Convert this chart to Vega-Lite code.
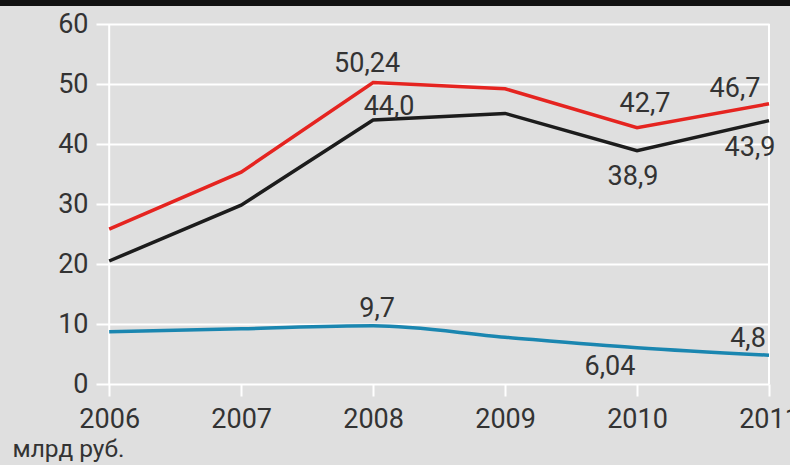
{
  "$schema": "https://vega.github.io/schema/vega-lite/v6.json",
  "autosize": "none",
  "width": 673,
  "height": 360,
  "padding": {"left": 96, "top": 24, "right": 21, "bottom": 81},
  "background": "#dfdfdf",
  "config": {
    "view": {"stroke": null},
    "font": "Roboto",
    "text": {"font": "Roboto"}
  },
  "datasets": {
    "series": [
      {"year": 2006, "series": "s1", "value": 25.8, "label": ""},
      {"year": 2007, "series": "s1", "value": 35.3, "label": ""},
      {"year": 2008, "series": "s1", "value": 50.24, "label": "50,24"},
      {"year": 2009, "series": "s1", "value": 49.2, "label": ""},
      {"year": 2010, "series": "s1", "value": 42.7, "label": "42,7"},
      {"year": 2011, "series": "s1", "value": 46.7, "label": "46,7"},
      {"year": 2006, "series": "s2", "value": 20.5, "label": ""},
      {"year": 2007, "series": "s2", "value": 29.8, "label": ""},
      {"year": 2008, "series": "s2", "value": 44.0, "label": "44,0"},
      {"year": 2009, "series": "s2", "value": 45.1, "label": ""},
      {"year": 2010, "series": "s2", "value": 38.9, "label": "38,9"},
      {"year": 2011, "series": "s2", "value": 43.9, "label": "43,9"},
      {"year": 2006, "series": "s3", "value": 8.7, "label": ""},
      {"year": 2007, "series": "s3", "value": 9.2, "label": ""},
      {"year": 2008, "series": "s3", "value": 9.7, "label": "9,7"},
      {"year": 2009, "series": "s3", "value": 7.8, "label": ""},
      {"year": 2010, "series": "s3", "value": 6.04, "label": "6,04"},
      {"year": 2011, "series": "s3", "value": 4.8, "label": "4,8"}
    ],
    "edges": [{"year": 2006}, {"year": 2011}],
    "strip": [{"x0": 2005.1, "x1": 2011.3, "yv": 63.6}]
  },
  "data": {"name": "series"},
  "encoding": {
    "x": {
      "field": "year",
      "type": "quantitative",
      "scale": {"domain": [2005.9, 2011], "nice": false, "zero": false},
      "axis": {
        "values": [2006, 2007, 2008, 2009, 2010, 2011],
        "format": "d",
        "grid": false,
        "domain": false,
        "ticks": true,
        "tickColor": "white",
        "tickSize": 12,
        "tickWidth": 2,
        "labelFont": "Roboto",
        "labelFontSize": 27,
        "labelColor": "#333333",
        "labelPadding": 10,
        "labelFlush": false,
        "labelOverlap": false,
        "title": "млрд руб.",
        "titleFont": "Roboto",
        "titleFontSize": 24.5,
        "titleFontWeight": "normal",
        "titleColor": "#333333",
        "titleAnchor": "start",
        "titleAlign": "left",
        "titleBaseline": "alphabetic",
        "titleX": -84,
        "titleY": 72
      }
    },
    "y": {
      "field": "value",
      "type": "quantitative",
      "scale": {"domain": [0, 60], "nice": false},
      "axis": {
        "values": [0, 10, 20, 30, 40, 50, 60],
        "grid": true,
        "gridColor": "white",
        "gridWidth": 2,
        "gridOpacity": 1,
        "domain": false,
        "ticks": false,
        "labelFont": "Roboto",
        "labelFontSize": 27,
        "labelColor": "#333333",
        "labelPadding": 8,
        "title": null
      }
    }
  },
  "layer": [
    {
      "data": {"name": "edges"},
      "mark": {"type": "rule", "color": "white", "strokeWidth": 2},
      "encoding": {"y": {"value": 0}, "y2": {"value": 360}}
    },
    {
      "data": {"name": "strip"},
      "mark": {"type": "rule", "color": "#111111", "strokeWidth": 7, "clip": false},
      "encoding": {
        "x": {"field": "x0", "type": "quantitative"},
        "x2": {"field": "x1"},
        "y": {"field": "yv", "type": "quantitative"}
      }
    },
    {
      "transform": [{"filter": "datum.series != 's3'"}],
      "mark": {"type": "line", "strokeWidth": 3.5},
      "encoding": {
        "color": {
          "field": "series",
          "type": "nominal",
          "scale": {"domain": ["s1", "s2", "s3"], "range": ["#e52420", "#1c1c1c", "#1a86b0"]},
          "legend": null
        },
        "strokeWidth": {
          "field": "series",
          "type": "nominal",
          "scale": {"domain": ["s1", "s2"], "range": [3.5, 3]},
          "legend": null
        }
      }
    },
    {
      "transform": [{"filter": "datum.series == 's3'"}],
      "mark": {"type": "line", "strokeWidth": 3.5, "interpolate": "monotone", "color": "#1a86b0"}
    },
    {"transform": [{"filter": "datum.label == '50,24'"}], "mark": {"type": "text", "fontSize": 27, "color": "#333333", "dx": -6, "dy": -11, "align": "center", "baseline": "alphabetic"}, "encoding": {"text": {"field": "label"}}},
    {"transform": [{"filter": "datum.label == '44,0'"}], "mark": {"type": "text", "fontSize": 27, "color": "#333333", "dx": 16, "dy": -5, "align": "center", "baseline": "alphabetic"}, "encoding": {"text": {"field": "label"}}},
    {"transform": [{"filter": "datum.label == '42,7'"}], "mark": {"type": "text", "fontSize": 27, "color": "#333333", "dx": 8, "dy": -16, "align": "center", "baseline": "alphabetic"}, "encoding": {"text": {"field": "label"}}},
    {"transform": [{"filter": "datum.label == '46,7'"}], "mark": {"type": "text", "fontSize": 27, "color": "#333333", "dx": -34, "dy": -7, "align": "center", "baseline": "alphabetic"}, "encoding": {"text": {"field": "label"}}},
    {"transform": [{"filter": "datum.label == '38,9'"}], "mark": {"type": "text", "fontSize": 27, "color": "#333333", "dx": -4, "dy": 34, "align": "center", "baseline": "alphabetic"}, "encoding": {"text": {"field": "label"}}},
    {"transform": [{"filter": "datum.label == '43,9'"}], "mark": {"type": "text", "fontSize": 27, "color": "#333333", "dx": -19, "dy": 35, "align": "center", "baseline": "alphabetic"}, "encoding": {"text": {"field": "label"}}},
    {"transform": [{"filter": "datum.label == '9,7'"}], "mark": {"type": "text", "fontSize": 27, "color": "#333333", "dx": 4, "dy": -9, "align": "center", "baseline": "alphabetic"}, "encoding": {"text": {"field": "label"}}},
    {"transform": [{"filter": "datum.label == '6,04'"}], "mark": {"type": "text", "fontSize": 27, "color": "#333333", "dx": -27, "dy": 27, "align": "center", "baseline": "alphabetic"}, "encoding": {"text": {"field": "label"}}},
    {"transform": [{"filter": "datum.label == '4,8'"}], "mark": {"type": "text", "fontSize": 27, "color": "#333333", "dx": -21, "dy": -8, "align": "center", "baseline": "alphabetic"}, "encoding": {"text": {"field": "label"}}}
  ]
}
